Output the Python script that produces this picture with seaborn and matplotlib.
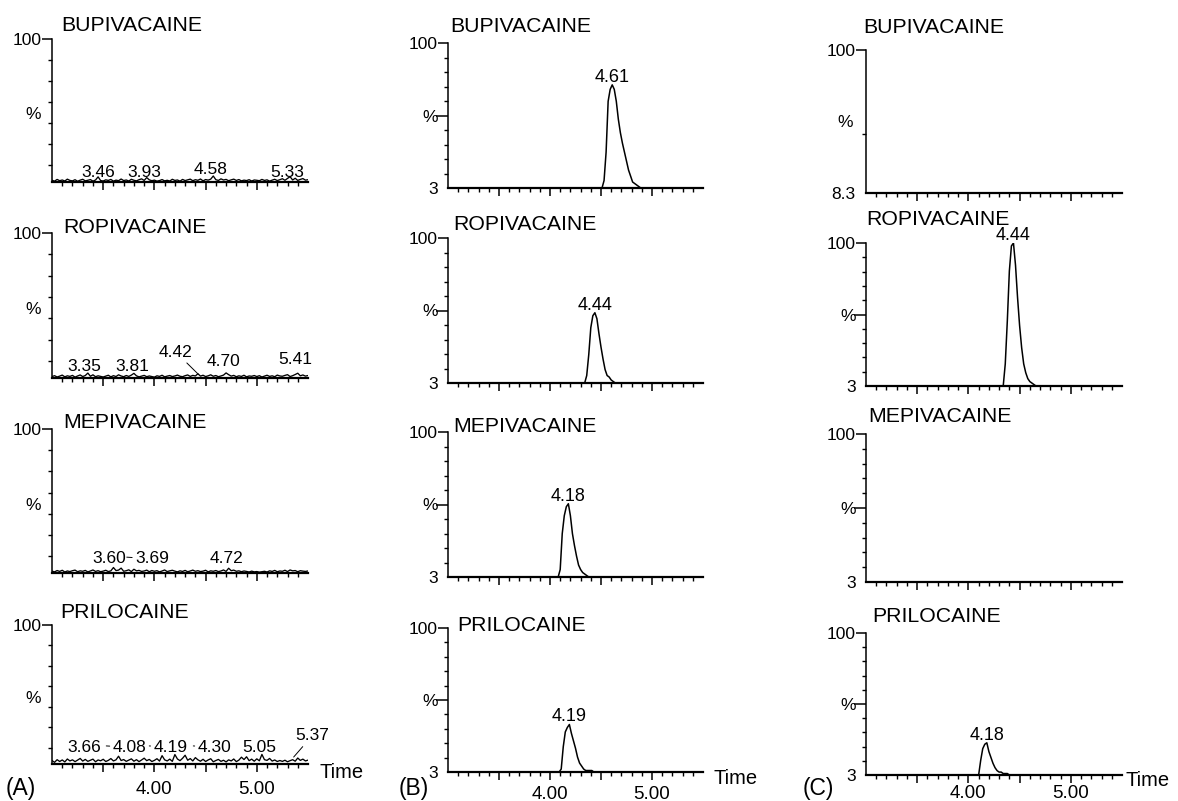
import numpy as np
import matplotlib
matplotlib.use("Agg")
from matplotlib import pyplot as plt
import seaborn as sns

sns.set_theme(style="ticks", rc={"axes.edgecolor": "black", "xtick.color": "black",
                                 "ytick.color": "black", "text.color": "black"})
plt.rcParams["font.family"] = ["Liberation Sans", "DejaVu Sans"]

W, H = 1178, 801

compounds = ["BUPIVACAINE", "ROPIVACAINE", "MEPIVACAINE", "PRILOCAINE"]
panel_tags = ["(A)", "(B)", "(C)"]

# (A) blank: noise traces, 3.000 - 5.500 min, one scan every 0.025 min (% of full scale)
blank_bupi = [1.2, 0.6, 1.8, 0.9, 1.4, 0.7, 2.0, 1.1, 0.8, 1.6,
              0.5, 1.3, 1.9, 0.8, 1.2, 1.7, 0.6, 1.4, 3.6, 1.0,
              0.7, 1.5, 1.1, 1.8, 0.6, 1.3, 0.9, 2.1, 1.0, 1.4,
              0.7, 1.9, 1.2, 0.8, 1.6, 2.2, 1.1, 3.1, 1.5, 0.9,
              1.3, 0.6, 1.0, 1.7, 0.8, 1.2, 0.7, 1.9, 1.1, 1.4,
              0.6, 1.8, 1.0, 1.5, 2.0, 0.9, 1.6, 1.2, 2.1, 0.8,
              1.7, 1.3, 2.0, 4.2, 1.6, 1.1, 2.2, 1.4, 1.8, 0.9,
              1.5, 2.0, 1.1, 1.7, 0.8, 1.3, 1.0, 1.6, 0.7, 1.4,
              1.2, 0.9, 1.8, 1.1, 1.5, 0.6, 1.3, 1.9, 1.0, 1.6,
              2.3, 1.2, 2.5, 3.7, 1.4, 2.6, 1.1, 1.8, 2.4, 1.3,
              1.6]
blank_ropi = [1.0, 1.6, 0.7, 1.3, 2.0, 0.8, 1.5, 1.1, 1.8, 0.6,
              1.4, 2.1, 1.0, 1.7, 3.4, 1.2, 2.2, 0.9, 1.5, 1.1,
              0.7, 1.3, 1.9, 0.8, 1.6, 1.0, 2.2, 1.4, 0.9, 1.7,
              1.1, 2.0, 3.2, 1.5, 0.8, 1.3, 1.8, 0.9, 1.4, 1.0,
              0.6, 1.5, 1.1, 1.9, 0.8, 1.3, 1.7, 1.0, 1.4, 2.0,
              1.2, 0.9, 1.6, 2.1, 1.1, 1.8, 1.4, 2.9, 1.3, 1.9,
              1.0, 1.5, 2.2, 1.2, 1.7, 0.9, 1.4, 2.0, 3.5, 2.3,
              1.3, 1.8, 0.9, 1.5, 1.1, 1.9, 0.8, 1.4, 1.2, 1.7,
              1.0, 1.6, 0.7, 1.3, 1.9, 1.1, 1.5, 0.9, 2.0, 1.4,
              1.2, 1.8, 2.3, 1.0, 1.6, 2.4, 3.3, 1.5, 2.1, 1.3,
              1.7]
blank_mepi = [1.3, 0.8, 1.7, 1.1, 1.9, 0.7, 1.4, 1.0, 1.6, 2.0,
              0.9, 1.5, 1.2, 1.8, 0.8, 1.4, 2.1, 1.1, 1.6, 0.9,
              1.3, 1.9, 1.0, 1.5, 3.8, 1.7, 2.0, 3.4, 1.2, 1.6,
              2.2, 1.0, 2.6, 1.5, 1.8, 1.1, 1.4, 2.0, 0.9, 1.7,
              1.2, 1.6, 0.8, 1.4, 2.1, 1.0, 1.5, 1.9, 1.3, 0.8,
              1.5, 1.1, 1.8, 0.9, 1.4, 2.0, 1.2, 1.6, 1.0, 1.3,
              1.9, 0.8, 1.5, 1.2, 1.7, 1.0, 1.4, 2.1, 1.1, 3.3,
              1.6, 2.0, 1.2, 1.5, 0.9, 1.4, 1.1, 0.7, 1.3, 0.8,
              1.0, 0.6, 0.9, 1.2, 0.7, 1.5, 1.1, 1.8, 0.9, 1.4,
              1.2, 1.9, 1.0, 2.1, 1.5, 1.7, 0.9, 1.6, 1.3, 1.1,
              1.4]
blank_prilo = [2.5, 1.2, 3.1, 1.8, 2.9, 1.5, 3.6, 2.2, 3.0, 1.7,
               2.8, 4.0, 2.1, 3.3, 1.9, 2.7, 3.5, 1.6, 2.9, 2.3,
               3.4, 1.8, 2.6, 3.9, 2.2, 3.0, 5.6, 2.5, 3.2, 1.9,
               2.8, 3.7, 2.0, 3.1, 1.7, 2.9, 4.2, 2.4, 3.3, 1.8,
               2.6, 3.8, 2.1, 6.0, 3.0, 2.2, 3.5, 1.9, 6.8, 3.6,
               2.4, 4.1, 6.3, 2.7, 3.9, 2.2, 4.6, 3.0, 2.0, 3.4,
               1.8, 2.9, 3.8, 1.6, 2.5, 3.3, 1.9, 2.7, 1.5, 3.0,
               2.2, 3.6, 1.7, 2.8, 4.9, 3.2, 5.2, 2.4, 3.5, 2.0,
               3.7, 2.3, 6.9, 3.1, 2.6, 4.0, 2.1, 2.9, 1.8, 2.5,
               1.9, 2.7, 1.6, 2.4, 3.1, 2.0, 4.3, 2.6, 3.5, 2.2,
               2.8]
blank_traces = [blank_bupi, blank_ropi, blank_mepi, blank_prilo]

# labels in the blank panels: (text, text x, text y, end of leader line or None)
blank_labels = [
    [("3.46", 3.45, 3.7, None), ("3.93", 3.90, 3.7, None),
     ("4.58", 4.55, 5.5, None), ("5.33", 5.30, 3.7, None)],
    [("3.35", 3.32, 5.0, None), ("3.81", 3.78, 4.5, None),
     ("4.42", 4.21, 14.7, (4.43, 2.5)), ("4.70", 4.67, 8.5, None),
     ("5.41", 5.38, 9.6, None)],
    [("3.60", 3.56, 6.7, None), ("3.69", 3.98, 6.7, (3.73, 11.0)),
     ("4.72", 4.70, 6.7, None)],
    [("3.66", 3.31, 8.8, None), ("4.08", 3.76, 8.8, (3.53, 13.0)),
     ("4.19", 4.16, 8.8, (3.95, 13.0)), ("4.30", 4.59, 8.8, (4.38, 13.0)),
     ("5.05", 5.02, 8.8, None), ("5.37", 5.54, 17.0, (5.36, 5.0))],
]

# (B) spiked and (C) sample: peak scans every 0.02 min from the start time,
# on a 3-100 % axis (3 = baseline)
spiked_start = [4.51, 4.34, 4.08, 4.09]
spiked_vals = [
    [3, 8, 27, 61, 69, 72, 69, 61, 49, 40, 33, 27, 21, 15, 11, 7, 6, 5, 4, 3],
    [3, 8, 22, 40, 48, 50, 46, 36, 27, 19, 12, 8, 7, 5, 4, 3],
    [3, 8, 32, 44, 50, 52, 44, 32, 24, 17, 11, 8, 6, 5, 4, 3],
    [3, 5, 20, 30, 33, 35, 29, 24, 19, 13, 9, 7, 5, 4, 4, 4, 4, 3],
]
spiked_rt = ["4.61", "4.44", "4.18", "4.19"]

sample_start = [None, 4.34, None, 4.10]
sample_vals = [
    None,
    [3, 18, 47, 81, 98, 100, 85, 63, 44, 29, 18, 12, 8, 6, 5, 4, 3],
    None,
    [3, 13, 21, 24, 25, 19, 15, 11, 8, 6, 5, 5, 4, 4, 4, 3],
]
sample_rt = [None, "4.44", None, "4.18"]
sample_offset = ["8.3", "3", "3", "3"]

# layout in pixels: column x0, x1 and row (top, bottom)
col_x = [(52, 308), (448, 703), (866, 1122)]
row_y = [[(39, 182), (233, 378), (429, 573), (625, 764)],
         [(43, 188), (238, 383), (432, 577), (628, 772)],
         [(50, 193), (243, 386), (434, 582), (633, 775)]]
title_xy = [[(61, 31), (63, 233), (63, 428), (60, 618)],
            [(450, 32), (453, 230), (453, 432), (457, 631)],
            [(863, 33), (866, 225), (868, 422), (872, 622)]]
tag_xy = [(21, 788), (414, 788), (818, 789)]
time_xy = [(320, 773), (713, 778), (1125, 780)]
xlabel_pad = [6, 3.8, 1.2]

scan_times = np.round(np.linspace(3.0, 5.5, 101), 3)


def px_axes(fig, x0, x1, top, bottom):
    return fig.add_axes([x0 / W, 1 - bottom / H, (x1 - x0) / W, (bottom - top) / H])


def style_axes(ax, ymin, bottom_row, pad):
    sns.despine(ax=ax)
    ax.spines["left"].set_linewidth(1.1)
    ax.spines["bottom"].set_linewidth(1.6)
    ax.set_xlim(3.0, 5.5)
    ax.set_ylim(ymin, 100)
    ax.set_xticks([3.5, 4.0, 4.5, 5.0])
    minors = [round(3.1 + 0.1 * k, 1) for k in range(24)]
    ax.set_xticks([m for m in minors if m not in (3.5, 4.0, 4.5, 5.0)], minor=True)
    if bottom_row:
        ax.set_xticklabels(["", "4.00", "", "5.00"], fontsize=13.5)
    else:
        ax.set_xticklabels([])
    ax.tick_params(axis="x", which="major", length=6, width=1.1, pad=pad, bottom=True)
    ax.tick_params(axis="x", which="minor", length=3.2, width=1.0, bottom=True)
    ax.tick_params(axis="y", which="major", length=7, width=1.1, pad=0.5,
                   labelsize=12.5, left=True)
    ax.tick_params(axis="y", which="minor", length=3, width=1.0, left=True)
    ax.set_xlabel("")
    ax.set_ylabel("")


fig = plt.figure(figsize=(W / 100, H / 100), dpi=100)

for ci in range(3):
    x0, x1 = col_x[ci]
    for ri, name in enumerate(compounds):
        top, bottom = row_y[ci][ri]
        ax = px_axes(fig, x0, x1, top, bottom)
        last = ri == 3

        if ci == 0:
            vals = blank_traces[ri]
            sns.lineplot(x=scan_times, y=vals, ax=ax, color="black",
                         linewidth=0.95, estimator=None)
            style_axes(ax, 0, last, xlabel_pad[ci])
            ax.set_yticks([100])
            ax.set_yticklabels(["100"])
            ax.set_yticks([85.3, 70.6, 55.9, 41.2, 26.5, 11.8], minor=True)
            ax.text(-19 / (x1 - x0), 0.47, "%", transform=ax.transAxes,
                    ha="center", va="center", fontsize=12.5)
            for lbl, tx, ty, lead in blank_labels[ri]:
                if lead is None:
                    ax.text(tx, ty, lbl, ha="center", va="baseline", fontsize=12.5)
                else:
                    ax.annotate(lbl, xy=lead, xytext=(tx, ty), ha="center",
                                va="baseline", fontsize=12.5,
                                arrowprops=dict(arrowstyle="-", lw=0.7, color="black",
                                                shrinkA=0, shrinkB=0))
        else:
            if ci == 1:
                start, vals, rt, off = spiked_start[ri], spiked_vals[ri], spiked_rt[ri], "3"
            else:
                start, vals, rt, off = sample_start[ri], sample_vals[ri], sample_rt[ri], sample_offset[ri]
            base = float(off)
            if vals is None:
                tt = np.array([3.0, 5.5])
                yy = np.array([base, base])
            else:
                seg_t = np.round(start + 0.02 * np.arange(len(vals)), 3)
                tt = np.r_[3.0, seg_t, 5.5]
                yy = np.r_[base, vals, base]
            sns.lineplot(x=tt, y=yy, ax=ax, color="black", linewidth=1.1,
                         estimator=None, sort=False)
            style_axes(ax, base, last, xlabel_pad[ci])
            span = 100 - base
            if off == "8.3":
                ax.set_yticks([base, 100])
                ax.set_yticklabels([off, "100"])
                ax.set_yticks([base + 0.41 * span], minor=True)
                ax.text(-21 / (x1 - x0), 0.49, "%", transform=ax.transAxes,
                        ha="center", va="center", fontsize=12.5)
            else:
                ax.set_yticks([base, base + 0.5 * span, 100])
                ax.set_yticklabels([off, "%", "100"])
                ax.set_yticks([base + 0.1 * k * span for k in (1, 2, 3, 4, 6, 7, 8, 9)],
                              minor=True)
            ticks = ax.yaxis.get_major_ticks()
            ticks[0].tick1line.set_markersize(0)
            if len(ticks) == 3:
                ticks[1].tick1line.set_markersize(9)
            if vals is not None:
                ax.annotate(rt, xy=(float(rt), max(vals)), xytext=(0, 2.2),
                            textcoords="offset points", ha="center", va="baseline",
                            fontsize=13)

        tx, ty = title_xy[ci][ri]
        fig.text(tx / W, 1 - ty / H, name, ha="left", va="baseline", fontsize=15.3)

    gx, gy = tag_xy[ci]
    fig.text(gx / W, 1 - gy / H, panel_tags[ci], ha="center", va="center", fontsize=16.5)
    mx, my = time_xy[ci]
    fig.text(mx / W, 1 - my / H, "Time", ha="left", va="center", fontsize=14.5)

fig.savefig("out.png", dpi=100)
